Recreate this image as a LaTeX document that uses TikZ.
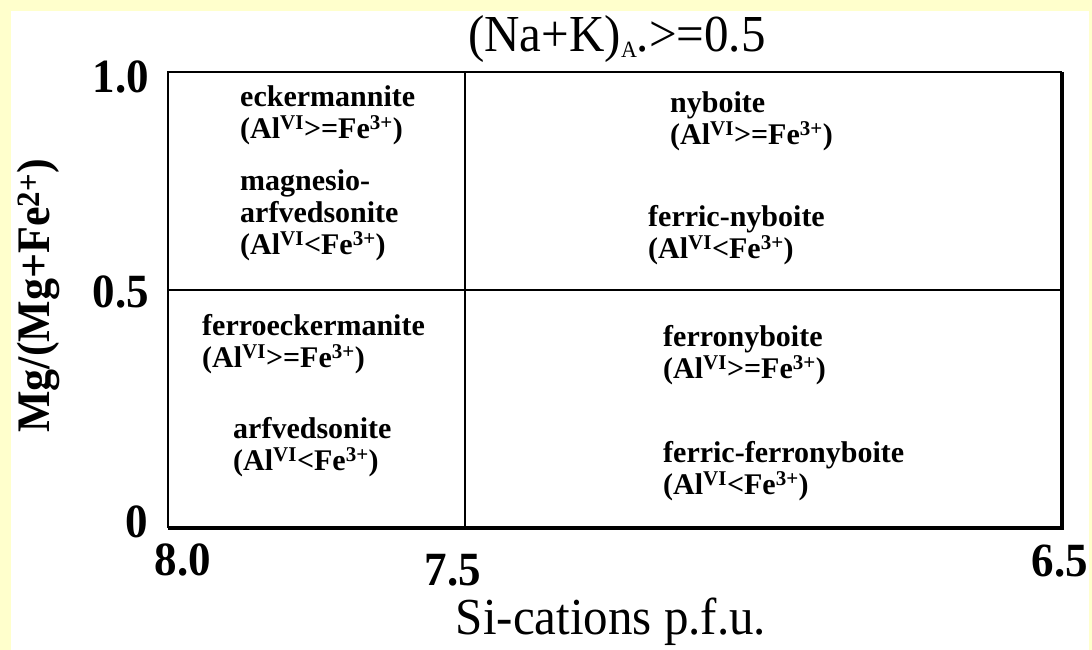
\documentclass[tikz,border=0pt]{standalone}
\usepackage{fontspec}
\setmainfont{Liberation Serif}
\definecolor{bgyellow}{HTML}{FFFFCC}
\newcommand{\alfe}[1]{(Al\textsuperscript{VI}#1Fe\textsuperscript{3+})}
\newcommand{\tall}[1]{\scalebox{1}[1.06]{#1}}
\newcommand{\smallsub}[1]{\raisebox{-5pt}{\fontsize{22}{22}\selectfont #1}}
\tikzset{
  celltext/.style={anchor=west, align=left, inner sep=0pt, font=\fontsize{30}{32}\selectfont\bfseries},
  ticktext/.style={inner sep=0pt, font=\fontsize{45}{45}\selectfont\bfseries},
  axistext/.style={inner sep=0pt, font=\fontsize{49}{49}\selectfont},
  frame/.style={line width=2pt, black},
  divider/.style={line width=1.4pt, black}
}
\begin{document}
\begin{tikzpicture}[x=1pt,y=-1pt]
\useasboundingbox (0,0) rectangle (1092,650);
\fill[bgyellow] (0,0) rectangle (1092,650);
\fill[white] (11,11) rectangle (1089,650);
% frame corners
\coordinate (tl) at (168,72);
\coordinate (tr) at (1062,72);
\coordinate (bl) at (168,528);
\coordinate (br) at (1062,528);
\coordinate (vt) at (465,72);
\coordinate (vb) at (465,528);
\coordinate (hl) at (168,290);
\coordinate (hr) at (1062,290);
\draw[frame] (bl) -- (tl) -- (tr);
\draw[line width=3.5pt] (tr) -- (br) -- (bl);
\draw[divider] (vt) -- (vb);
\draw[divider] (hl) -- (hr);
% title
\node[axistext, anchor=base] (title) at (617,52) {\tall{(Na+K)\smallsub{A}.>=0.5}};
% y ticks
\node[ticktext, anchor=east] (y1) at (149,77) {\tall{1.0}};
\node[ticktext, anchor=east] (y05) at (149,292) {\tall{0.5}};
\node[ticktext, anchor=east] (y0) at (148,522) {\tall{0}};
% x ticks
\node[ticktext] (x8) at (183,560) {\tall{8.0}};
\node[ticktext] (x75) at (453,570) {\tall{7.5}};
\node[ticktext] (x65) at (1060,561) {\tall{6.5}};
% axis labels
\node[axistext, font=\fontsize{44}{44}\selectfont\bfseries, rotate=90] (ylab) at (38,296) {\tall{Mg/(Mg+Fe\textsuperscript{2+})}};
\node[axistext] (xlab) at (611,622) {\tall{Si-cations p.f.u.}};
% cells
\node[celltext] (c1) at (240,115) {eckermannite\\\alfe{>=}};
\node[celltext] (c2) at (240,215) {magnesio-\\arfvedsonite\\\alfe{<}};
\node[celltext] (c3) at (670,121) {nyboite\\\alfe{>=}};
\node[celltext] (c4) at (648,235) {ferric-nyboite\\\alfe{<}};
\node[celltext] (c5) at (202,344) {ferroeckermanite\\\alfe{>=}};
\node[celltext] (c6) at (233,447) {arfvedsonite\\\alfe{<}};
\node[celltext] (c7) at (663,355) {ferronyboite\\\alfe{>=}};
\node[celltext] (c8) at (663,471) {ferric-ferronyboite\\\alfe{<}};
\end{tikzpicture}
\end{document}
